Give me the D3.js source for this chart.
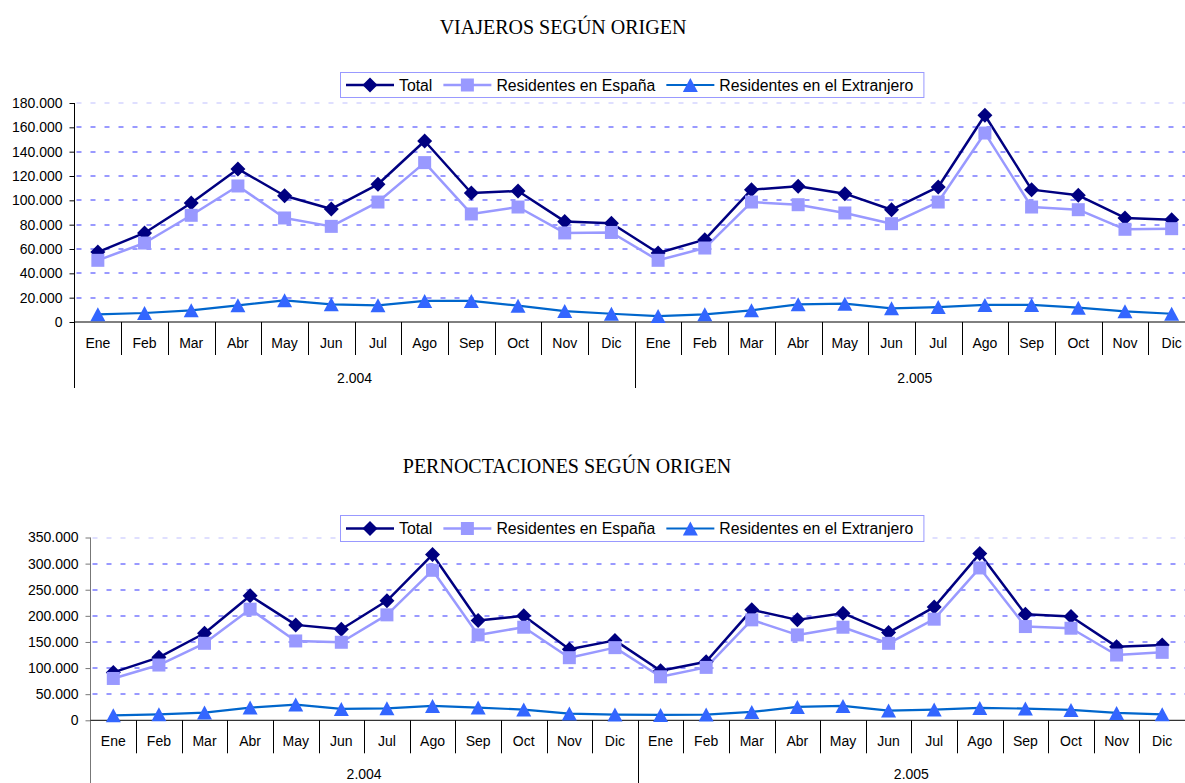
<!DOCTYPE html>
<html>
<head>
<meta charset="utf-8">
<script src="https://cdn.jsdelivr.net/npm/d3@7"></script>
<style>
    body { margin: 0; background: #fff; }
    svg { display: block; }
    .title { font-family: "Liberation Serif", "Times New Roman", serif; font-size: 20px; }
    .axis-text { font-family: "Liberation Sans", Arial, sans-serif; font-size: 14px; fill: #000; }
    .legend-text { font-family: "Liberation Sans", Arial, sans-serif; font-size: 15.8px; fill: #000; }
</style>
</head>
<body>
<div id="chart"></div>
<script>
// Categories
const months = ["Ene", "Feb", "Mar", "Abr", "May", "Jun", "Jul", "Ago", "Sep", "Oct", "Nov", "Dic"];
const years = ["2.004", "2.005"];
const seriesNames = ["Total", "Residentes en España", "Residentes en el Extranjero"];

// Viajeros (2004 Ene..Dic, 2005 Ene..Dic)
const viajerosTotal = [57500, 73200, 97800, 125800, 103800, 92900, 113200, 148800, 106000, 107700, 82700, 81200,
                       56700, 67700, 108800, 111500, 105500, 92300, 111000, 169900, 108800, 104100, 85500, 84100];
const viajerosEspana = [50700, 64900, 87700, 111800, 85500, 78600, 98600, 131000, 88800, 94500, 73200, 73600,
                        50700, 60800, 98600, 96400, 89600, 80800, 98600, 155300, 94500, 92300, 76200, 76700];
const viajerosExtranjero = [6300, 7400, 9600, 13700, 17800, 14500, 13700, 17300, 17300, 13400, 9000, 6800,
                            4900, 6300, 9600, 14500, 15100, 11200, 12300, 14000, 14000, 11800, 8800, 6800];
const viajerosTicks = [0, 20000, 40000, 60000, 80000, 100000, 120000, 140000, 160000, 180000];

// Pernoctaciones
const pernoctTotal = [91700, 120500, 166700, 238500, 182700, 174400, 228800, 317300, 191000, 200000, 135900, 153000,
                      94900, 112200, 211500, 192300, 205100, 167900, 216700, 319200, 203200, 198700, 141000, 144200];
const pernoctEspana = [80100, 105800, 147400, 212800, 151900, 149400, 201900, 287200, 163500, 178200, 119900, 139100,
                       83300, 101300, 192300, 163500, 178200, 147400, 193600, 291700, 179500, 176300, 125000, 130100];
const pernoctExtranjero = [9600, 11500, 14700, 24400, 30100, 21800, 23000, 27600, 24400, 20500, 12800, 10900,
                           10300, 10900, 16000, 25600, 27600, 18600, 20500, 23700, 22400, 19900, 14100, 11500];
const pernoctTicks = [0, 50000, 100000, 150000, 200000, 250000, 300000, 350000];

// Colours
const colTotal = "#000080";
const colEspana = "#9999FF";
const colExtLine = "#0066CC";
const colExtMarker = "#3366FF";

const esLocale = d3.formatLocale({decimal: ",", thousands: ".", grouping: [3], currency: ["", " €"]});
const fmt = esLocale.format(",d");

const svg = d3.select("#chart")
    .append("svg")
        .attr("width", 1185)
        .attr("height", 783);

// Marker shapes
const diamond = s => `M0,${-s}L${s},0L0,${s}L${-s},0Z`;
const square = s => `M${-s},${-s}H${s}V${s}H${-s}Z`;
const triangle = (w, h) => `M0,${-h / 2}L${w / 2},${h / 2}L${-w / 2},${h / 2}Z`;

const seriesStyles = [
    {line: colTotal, marker: colTotal, width: 2.5, shape: diamond(7.5)},
    {line: colEspana, marker: colEspana, width: 2.5, shape: square(6.5)},
    {line: colExtLine, marker: colExtMarker, width: 2.2, shape: triangle(15, 14)},
];

function drawChart(cfg) {
    const g = svg.append("g");
    const labels = d3.range(24).map(i => months[i % 12]);

    const xScale = d3.scaleBand()
        .domain(d3.range(24))
        .range([cfg.left, cfg.right]);

    const yScale = d3.scaleLinear()
        .domain([0, d3.max(cfg.ticks)])
        .range([cfg.y0, cfg.yTop]);

    const cx = i => xScale(i) + xScale.bandwidth() / 2;

    // Title
    g.append("text")
        .attr("class", "title")
        .attr("x", cfg.titleX)
        .attr("y", cfg.titleY)
        .attr("text-anchor", "middle")
        .text(cfg.title);

    // Gridlines
    g.append("g")
        .selectAll("line")
        .data(cfg.ticks.filter(d => d > 0))
        .join("line")
            .attr("x1", cfg.left + 2)
            .attr("x2", cfg.right)
            .attr("y1", d => Math.round(yScale(d)))
            .attr("y2", d => Math.round(yScale(d)))
            .style("stroke", colEspana)
            .style("stroke-width", 2)
            .style("stroke-dasharray", "5,9")
            .style("opacity", (d, i, n) => i === n.length - 1 ? 0.3 : 1);

    // Y axis
    const yAxis = g.append("g")
        .attr("transform", `translate(${cfg.left},0)`)
        .call(d3.axisLeft(yScale)
            .tickValues(cfg.ticks)
            .tickSize(5)
            .tickPadding(7)
            .tickFormat(d => fmt(d)));
    yAxis.select(".domain").remove();
    yAxis.selectAll(".tick line").style("stroke", cfg.axisColor);
    yAxis.selectAll("text").attr("class", "axis-text").attr("fill", null);

    g.append("line")
        .attr("x1", cfg.left).attr("x2", cfg.left)
        .attr("y1", cfg.yTop).attr("y2", cfg.y0 + 66)
        .style("stroke", cfg.axisColor);

    // Category axis
    g.append("line")
        .attr("x1", cfg.left).attr("x2", cfg.right)
        .attr("y1", cfg.y0).attr("y2", cfg.y0)
        .style("stroke", "#000");

    g.append("g")
        .selectAll("line")
        .data(d3.range(1, 24))
        .join("line")
            .attr("x1", i => Math.round(xScale(i)) + 0.5)
            .attr("x2", i => Math.round(xScale(i)) + 0.5)
            .attr("y1", cfg.y0)
            .attr("y2", i => cfg.y0 + (i % 12 === 0 ? 66 : 33))
            .style("stroke", "#000");

    g.append("g")
        .selectAll("text")
        .data(labels)
        .join("text")
            .attr("class", "axis-text")
            .attr("x", (d, i) => cx(i))
            .attr("y", cfg.y0 + 26)
            .attr("text-anchor", "middle")
            .text(d => d);

    g.append("g")
        .selectAll("text")
        .data(years)
        .join("text")
            .attr("class", "axis-text")
            .attr("x", (d, i) => (xScale(i * 12) + xScale(i * 12 + 11) + xScale.bandwidth()) / 2)
            .attr("y", cfg.y0 + cfg.yearOffset)
            .attr("text-anchor", "middle")
            .text(d => d);

    // Series
    const line = d3.line()
        .x((d, i) => cx(i))
        .y(d => yScale(d));

    cfg.series.forEach((values, k) => {
        const st = seriesStyles[k];
        g.append("path")
            .datum(values)
            .attr("d", line)
            .style("fill", "none")
            .style("stroke", st.line)
            .style("stroke-width", st.width)
            .style("stroke-linejoin", "round");
    });

    cfg.series.forEach((values, k) => {
        const st = seriesStyles[k];
        g.append("g")
            .selectAll("path")
            .data(values)
            .join("path")
                .attr("transform", (d, i) => `translate(${cx(i)},${yScale(d)})`)
                .attr("d", st.shape)
                .style("fill", st.marker);
    });

    // Legend
    const legend = g.append("g");
    const box = legend.append("rect")
        .attr("x", cfg.legendX + 0.5)
        .attr("y", cfg.legendY + 0.5)
        .attr("height", cfg.legendH)
        .style("fill", "#fff")
        .style("stroke", colEspana);

    let lx = cfg.legendX + 6;
    const ly = cfg.legendY + cfg.legendH / 2 + 0.5;
    seriesNames.forEach((name, k) => {
        const st = seriesStyles[k];
        legend.append("line")
            .attr("x1", lx).attr("x2", lx + 48)
            .attr("y1", ly).attr("y2", ly)
            .style("stroke", st.line)
            .style("stroke-width", st.width);
        legend.append("path")
            .attr("transform", `translate(${lx + 24},${ly})`)
            .attr("d", st.shape)
            .style("fill", st.marker);
        const t = legend.append("text")
            .attr("class", "legend-text")
            .attr("x", lx + 53)
            .attr("y", ly + 5.5)
            .text(name);
        lx += 53 + t.node().getComputedTextLength() + 11;
    });
    box.attr("width", lx - cfg.legendX - 1);
}

drawChart({
    title: "VIAJEROS SEGÚN ORIGEN",
    titleX: 563, titleY: 34,
    left: 74.5, right: 1195, y0: 322, yTop: 103,
    ticks: viajerosTicks,
    series: [viajerosTotal, viajerosEspana, viajerosExtranjero],
    legendX: 340, legendY: 72, legendH: 25,
    axisColor: "#000", yearOffset: 61,
});

drawChart({
    title: "PERNOCTACIONES SEGÚN ORIGEN",
    titleX: 567, titleY: 473,
    left: 90.5, right: 1185, y0: 720.3, yTop: 537.5,
    ticks: pernoctTicks,
    series: [pernoctTotal, pernoctEspana, pernoctExtranjero],
    legendX: 340, legendY: 515, legendH: 26,
    axisColor: "#777", yearOffset: 59,
});
</script>
</body>
</html>
